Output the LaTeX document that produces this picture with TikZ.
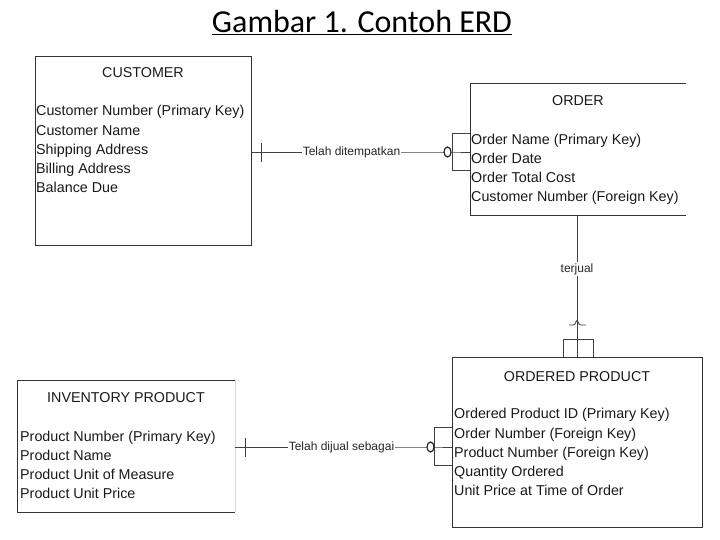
\documentclass[tikz,border=0pt]{standalone}
\usepackage{fontspec}
\setmainfont{Liberation Sans}
\newfontfamily\titlefont{Carlito}
\usetikzlibrary{shapes.geometric}
\begin{document}
\begin{tikzpicture}[x=1pt,y=-1pt,
  ebox/.style={draw=none, inner sep=0, anchor=north west},
  edge/.style={draw=black!80, line width=1pt},
  attr/.style={anchor=base west, inner sep=0, font=\fontsize{14.3}{16}\selectfont, text=black!90},
  hdr/.style={anchor=base, inner sep=0, font=\fontsize{14.3}{16}\selectfont, text=black!90},
  rel/.style={font=\fontsize{12}{13}\selectfont, inner sep=1pt, fill=white, text=black!85},
  ln/.style={draw=black!75, line width=0.9pt},
  circ/.style={draw=black!85, ellipse, minimum width=7pt, minimum height=10pt, inner sep=0, line width=1.2pt, fill=white}
]
\useasboundingbox (0,0) rectangle (720,540);

% title
\node[font=\titlefont\fontsize{32}{36}\selectfont, anchor=base, inner sep=0] (title) at (362,33) {\underline{Gambar 1. Contoh ERD}};

% CUSTOMER
\node[ebox, minimum width=216pt, minimum height=188pt] (cust) at (35,57) {};
\draw[edge] (cust.north west) rectangle (cust.south east);
\node[hdr] (custh) at (143,78) {CUSTOMER};
\node[attr] (c1) at (36,116) {Customer Number (Primary Key)};
\node[attr] (c2) at (36,135.5) {Customer Name};
\node[attr] (c3) at (36,155) {Shipping Address};
\node[attr] (c4) at (36,174) {Billing Address};
\node[attr] (c5) at (36,193) {Balance Due};

% ORDER
\node[ebox, minimum width=216pt, minimum height=131pt] (order) at (470,84) {};
\draw[edge] (order.north east) -- (order.north west) -- (order.south west) -- (order.south east);
\node[hdr] (orderh) at (578,106) {ORDER};
\node[attr] (o1) at (471,145) {Order Name (Primary Key)};
\node[attr] (o2) at (471,164) {Order Date};
\node[attr] (o3) at (471,183) {Order Total Cost};
\node[attr] (o4) at (471,202) {Customer Number (Foreign Key)};

% ORDERED PRODUCT
\node[ebox, minimum width=250pt, minimum height=170pt] (op) at (452,357) {};
\draw[edge] (op.north west) rectangle (op.south east);
\node[hdr] (oph) at (577,381) {ORDERED PRODUCT};
\node[attr] (p1) at (454,418) {Ordered Product ID (Primary Key)};
\node[attr] (p2) at (454,438) {Order Number (Foreign Key)};
\node[attr] (p3) at (454,457) {Product Number (Foreign Key)};
\node[attr] (p4) at (454,476) {Quantity Ordered};
\node[attr] (p5) at (454,495) {Unit Price at Time of Order};

% INVENTORY PRODUCT
\node[ebox, minimum width=218pt, minimum height=132pt] (inv) at (17,380) {};
\draw[edge] (inv.north east) -- (inv.north west) -- (inv.south west) -- (inv.south east);
\draw[draw=black!15, line width=1pt] (inv.north east) -- (inv.south east);
\node[hdr] (invh) at (126,402) {INVENTORY PRODUCT};
\node[attr] (i1) at (20,441) {Product Number (Primary Key)};
\node[attr] (i2) at (20,460) {Product Name};
\node[attr] (i3) at (20,479) {Product Unit of Measure};
\node[attr] (i4) at (20,498) {Product Unit Price};

% Relationship 1: Telah ditempatkan
\node[rel] (r1) at (351.5,152) {Telah ditempatkan};
\coordinate (f1) at (452,152);
\draw[ln] (cust.east |- r1) -- (r1);
\draw[ln] (r1) -- (f1) -- (order.west |- f1);
\draw[ln] (order.west |- 0,133) -- (452,133) -- (452,170) -- (order.west |- 0,170);
\draw[ln] (261,143) -- (261,162);
\node[circ] (oc1) at (447.5,152) {};

% Relationship 2: terjual
\node[rel] (r2) at (577,269) {terjual};
\draw[ln] (order.south -| r2) -- (r2) -- (op.north -| r2);
\draw[ln] (569,325) -- (573.5,325) .. controls (575.5,325) and (576,320.5) .. (577,320.5) .. controls (578,320.5) and (578.5,325) .. (580.5,325) -- (586,325);
\draw[ln] (563,357) -- (563,339) -- (593,339) -- (593,357);

% Relationship 3: Telah dijual sebagai
\node[rel] (r3) at (341.5,447) {Telah dijual sebagai};
\coordinate (f3) at (434,447);
\draw[ln] (inv.east |- r3) -- (r3);
\draw[ln] (r3) -- (f3) -- (op.west |- f3);
\draw[ln] (op.west |- 0,427) -- (434,427) -- (434,465) -- (op.west |- 0,465);
\draw[ln] (245,438) -- (245,457);
\node[circ] (oc3) at (430.5,447) {};
\end{tikzpicture}
\end{document}
